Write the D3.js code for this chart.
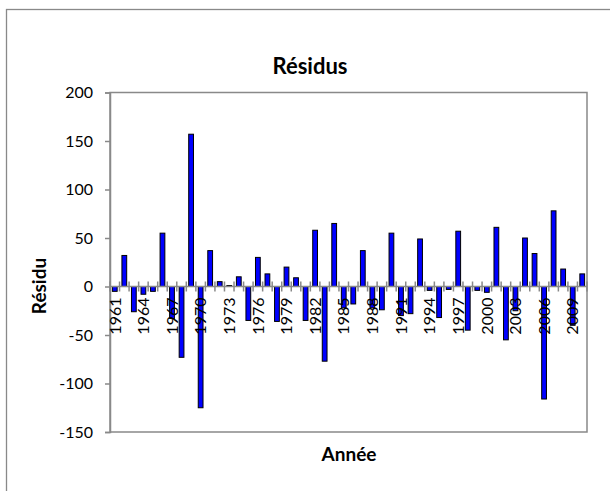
<!DOCTYPE html>
<html>
<head>
<meta charset="utf-8">
<script src="https://cdn.jsdelivr.net/npm/d3@7"></script>
<style>
  html, body { margin: 0; padding: 0; background: #fff; }
  text { font-family: Lato, "Open Sans", sans-serif; fill: #000; }
</style>
</head>
<body>
<svg id="chart" width="610" height="491"></svg>
<script>
const years = [1961,1962,1963,1964,1965,1966,1967,1968,1969,1970,
               1971,1972,1973,1974,1975,1976,1977,1978,1979,1980,
               1981,1982,1983,1984,1985,1986,1987,1988,1989,1990,
               1991,1992,1993,1994,1995,1996,1997,1998,1999,2000,
               2001,2002,2003,2004,2005,2006,2007,2008,2009,2010];
const residus = [-5, 32, -26, -8, -5, 55, -33, -73, 157, -125,
                 37, 5, 1, 10, -35, 30, 13, -36, 20, 9,
                 -35, 58, -77, 65, -22, -18, 37, -22, -24, 55,
                 -30, -28, 49, -4, -32, -3, 57, -45, -4, -6,
                 61, -55, -25, 50, 34, -116, 78, 18, -40, 13];
const yTicks = [-150, -100, -50, 0, 50, 100, 150, 200];
const xLabelYears = [1961,1964,1967,1970,1973,1976,1979,1982,1985,1988,1991,1994,1997,2000,2003,2006,2009];
const title = "Résidus";
const xTitle = "Année";
const yTitle = "Résidu";

const data = years.map((y, i) => ({ year: y, value: residus[i] }));

const svg = d3.select("#chart");
const gray = "#898989";
const plot = { left: 110, right: 587, top: 92.5, bottom: 432 };

// chart area
svg.append("rect").attr("x", 6.5).attr("y", 9.5).attr("width", 620).attr("height", 500)
  .attr("fill", "#fff").attr("stroke", gray).attr("stroke-width", 1.3);

const x = d3.scaleBand().domain(years).range([plot.left, plot.right])
  .paddingInner(0.5).paddingOuter(0.25);
const y = d3.scaleLinear().domain([-150, 200]).range([plot.bottom, plot.top]);

// plot area border
svg.append("rect").attr("x", plot.left).attr("y", plot.top)
  .attr("width", plot.right - plot.left).attr("height", plot.bottom - plot.top)
  .attr("fill", "none").attr("stroke", gray).attr("stroke-width", 1.5);

// y axis
const yAxis = svg.append("g").attr("transform", `translate(${plot.left},0)`)
  .call(d3.axisLeft(y).tickValues(yTicks).tickSize(5).tickPadding(12).tickFormat(d => String(d)));
yAxis.select(".domain").attr("stroke", gray).attr("stroke-width", 1.5);
yAxis.selectAll(".tick line").attr("stroke", gray).attr("stroke-width", 1.5);
yAxis.selectAll(".tick text").style("font-size", "16px").style("font-family", "Lato");

// bars
svg.append("g").selectAll("rect").data(data).join("rect")
  .attr("x", d => x(d.year))
  .attr("width", x.bandwidth())
  .attr("y", d => y(Math.max(0, d.value)))
  .attr("height", d => Math.abs(y(d.value) - y(0)))
  .attr("fill", "#0000ff")
  .attr("stroke", "#000")
  .attr("stroke-width", 1);

// category axis at zero
const step = x.step();
const x0 = x(years[0]) - (step - x.bandwidth()) / 2;
const boundaries = d3.range(years.length + 1).map(i => x0 + i * step);
const catAxis = svg.append("g");
catAxis.append("line").attr("x1", plot.left).attr("x2", plot.right)
  .attr("y1", y(0)).attr("y2", y(0)).attr("stroke", gray).attr("stroke-width", 1.5);
catAxis.selectAll("line.tk").data(boundaries).join("line").attr("class", "tk")
  .attr("x1", d => d).attr("x2", d => d)
  .attr("y1", y(0) - 5).attr("y2", y(0) + 5)
  .attr("stroke", gray).attr("stroke-width", 1.5);

// category labels
svg.append("g").selectAll("text").data(xLabelYears).join("text")
  .attr("transform", d => `translate(${x(d) + x.bandwidth() / 2},${y(0) + 11}) rotate(-90)`)
  .attr("text-anchor", "end")
  .attr("dy", "0.36em")
  .style("font-size", "16px")
  .text(d => d);

// titles
svg.append("text").attr("x", 310).attr("y", 74).attr("text-anchor", "middle")
  .style("font-size", "22px").style("font-weight", "bold").text(title);
svg.append("text").attr("x", 349).attr("y", 461).attr("text-anchor", "middle")
  .style("font-size", "19px").style("font-weight", "bold").text(xTitle);
svg.append("text").attr("transform", "translate(46,286) rotate(-90)").attr("text-anchor", "middle")
  .style("font-size", "19px").style("font-weight", "bold").text(yTitle);
</script>
</body>
</html>
